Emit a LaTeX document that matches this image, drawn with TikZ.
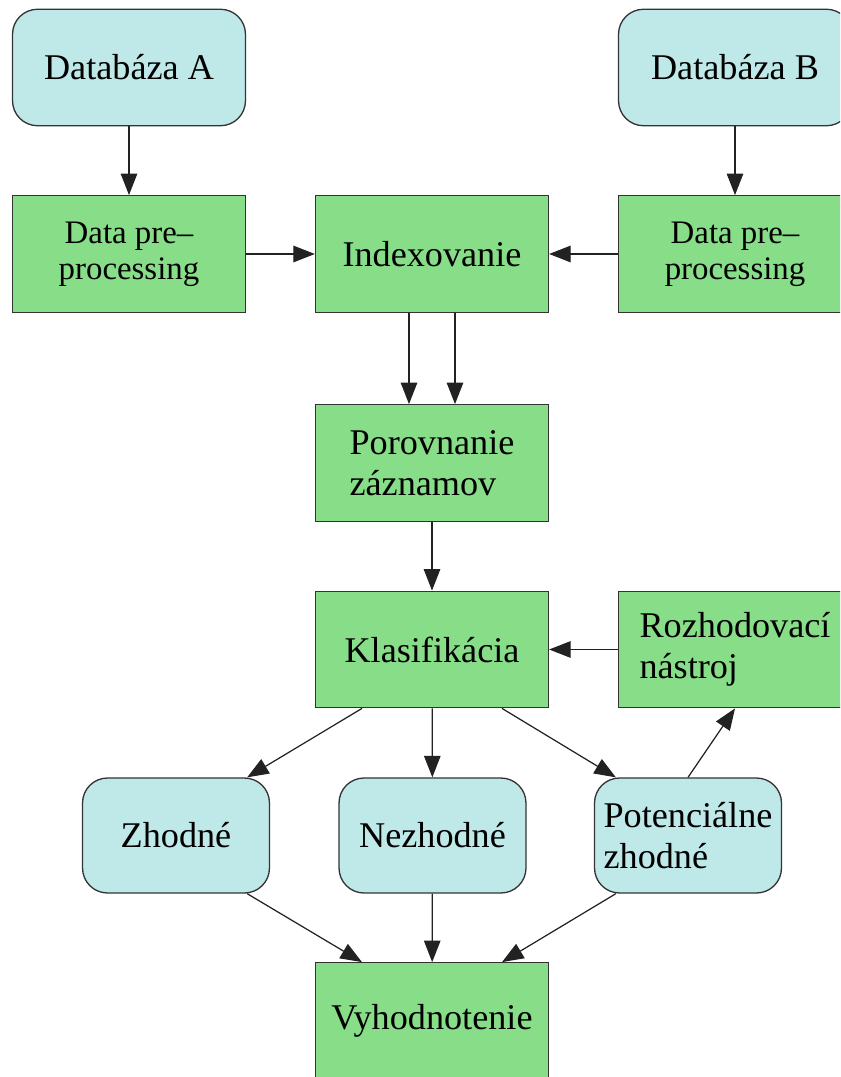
\documentclass[tikz,border=0pt]{standalone}
\usepackage{fontspec}
\setmainfont{Liberation Serif}
\usepackage{xcolor}
\usepackage{tikz}
\usetikzlibrary{calc,arrows.meta}
\definecolor{boxline}{HTML}{333333}
\definecolor{arrline}{HTML}{222222}
\definecolor{green}{HTML}{88DD88}
\definecolor{cyan}{HTML}{BEE9E8}
\tikzset{
  gbox/.style={draw=boxline, fill=green, line width=0.75pt, inner sep=0pt,
    minimum width=4.66cm, minimum height=2.33cm, font=\fontsize{20.6}{23.5}\selectfont},
  cbox/.style={gbox, fill=cyan, rounded corners=0.5cm},
  small/.style={minimum width=3.74cm, minimum height=2.3cm},
  dpfont/.style={font=\fontsize{18.7}{20.5}\selectfont},
  arr/.style={draw=arrline, line width=0.7pt, -{Triangle[length=0.43cm, width=0.33cm]}}
}

\begin{document}
\begin{tikzpicture}[x=0.02cm, y=-0.02cm]
  \useasboundingbox (0,0) rectangle (840,1077);
  \clip (0,0) rectangle (840,1077);

  % sources
  \node[cbox] (dba) at (129,67.5) {Databáza A};
  \node[cbox] (dbb) at (735,67.5) {Databáza B};

  % preprocessing and indexing
  \node[gbox, dpfont, align=center] (dpa) at (129,254) {Data pre--\\processing};
  \node[gbox] (idx) at (432,254) {Indexovanie};
  \node[gbox, dpfont, align=center] (dpb) at (735,254) {Data pre--\\processing};

  \node[gbox, align=left] (por) at (432,463) {Porovnanie\\záznamov};
  \node[gbox] (klas) at (432,649.5) {Klasifikácia};
  \node[gbox, align=left] (roz) at (735,649.5) {Rozhodovací\\nástroj};

  % results
  \node[cbox, small] (zhod) at (176,835.5) {Zhodné};
  \node[cbox, small] (nez) at (432.5,835.5) {Nezhodné};
  \node[cbox, small, align=left] (pot) at (688,835.5) {Potenciálne\\zhodné};
  \node[gbox] (vyh) at (432,1021) {Vyhodnotenie};

  \draw[arr] (dba) -- (dpa);
  \draw[arr] (dbb) -- (dpb);
  \draw[arr] (dpa) -- (idx);
  \draw[arr] (dpb) -- (idx);
  \draw[arr] ($(idx.south)+(-23,0)$) -- ($(por.north)+(-23,0)$);
  \draw[arr] ($(idx.south)+(23,0)$) -- ($(por.north)+(23,0)$);
  \draw[arr] (por) -- (klas);
  \draw[arr] (roz) -- (klas);

  \draw[arr] ($(klas.south)+(-70,0)$) -- ($(zhod.north east)+(-23,0)$);
  \draw[arr] (klas) -- (nez);
  \draw[arr] ($(klas.south)+(70,0)$) -- ($(pot.north west)+(22,0)$);
  \draw[arr] (pot.north) -- (roz.south);

  \draw[arr] ($(zhod.south east)+(-23,0)$) -- ($(vyh.north)+(-70,0)$);
  \draw[arr] (nez) -- (vyh);
  \draw[arr] ($(pot.south west)+(22,0)$) -- ($(vyh.north)+(70,0)$);
\end{tikzpicture}
\end{document}
